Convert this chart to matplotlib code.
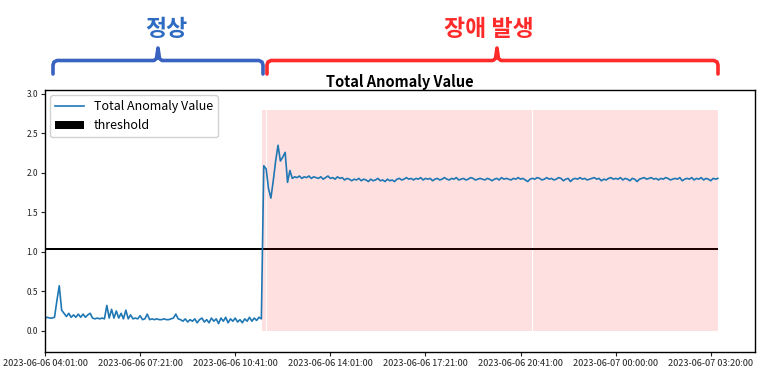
import numpy as np
import matplotlib
matplotlib.use("Agg")
import matplotlib.pyplot as plt
from matplotlib.lines import Line2D

plt.rcParams['font.family'] = ['Noto Sans CJK KR', 'DejaVu Sans']

# ---- data (one value every 5 minutes) ----
step = 5
normal_vals = [
    0.16, 0.17, 0.16, 0.16, 0.17, 0.38, 0.57, 0.26, 0.22, 0.18,
    0.22, 0.17, 0.20, 0.17, 0.21, 0.17, 0.21, 0.17, 0.20, 0.22,
    0.16, 0.15, 0.16, 0.15, 0.16, 0.15, 0.32, 0.16, 0.27, 0.16,
    0.25, 0.16, 0.22, 0.15, 0.26, 0.15, 0.20, 0.15, 0.16, 0.15,
    0.19, 0.14, 0.15, 0.21, 0.14, 0.15, 0.14, 0.15, 0.14, 0.14,
    0.15, 0.14, 0.14, 0.15, 0.16, 0.21, 0.15, 0.14, 0.12, 0.15,
    0.11, 0.14, 0.12, 0.15, 0.10, 0.14, 0.16, 0.11, 0.14, 0.10,
    0.16, 0.12, 0.15, 0.09, 0.16, 0.12, 0.17, 0.10, 0.15, 0.12,
    0.16, 0.11, 0.14, 0.10, 0.15, 0.12, 0.17, 0.12, 0.16, 0.13,
    0.17, 0.15,
]
transition_vals = [
    2.09, 2.05, 1.80, 1.68, 1.90, 2.15, 2.35, 2.15, 2.20, 2.26,
    1.88, 2.03, 1.93,
]
stable_vals = [
    1.95, 1.94, 1.96, 1.93, 1.95, 1.94, 1.96, 1.93, 1.95, 1.94,
    1.93, 1.95, 1.92, 1.94, 1.96, 1.93, 1.94, 1.92, 1.95, 1.93,
    1.94, 1.91, 1.93, 1.92, 1.90, 1.92, 1.91, 1.93, 1.90, 1.92,
    1.91, 1.89, 1.92, 1.90, 1.91, 1.93, 1.90, 1.91, 1.89, 1.92,
    1.90, 1.91, 1.89, 1.92, 1.93, 1.91, 1.92, 1.94, 1.92, 1.93,
    1.91, 1.93, 1.92, 1.94, 1.91, 1.93, 1.92, 1.93, 1.90, 1.92,
    1.93, 1.91, 1.92, 1.94, 1.92, 1.91, 1.93, 1.92, 1.94, 1.91,
    1.92, 1.93, 1.91, 1.92, 1.94, 1.93, 1.91, 1.92, 1.93, 1.92,
    1.91, 1.93, 1.92, 1.90, 1.92, 1.93, 1.91, 1.94, 1.92, 1.93,
    1.92, 1.91, 1.93, 1.92, 1.94, 1.92, 1.93, 1.91, 1.89, 1.92,
    1.93, 1.92, 1.94, 1.93, 1.91, 1.92, 1.94, 1.92, 1.93, 1.91,
    1.92, 1.94, 1.93, 1.90, 1.92, 1.93, 1.89, 1.92, 1.93, 1.92,
    1.94, 1.92, 1.93, 1.91, 1.92, 1.93, 1.94, 1.92, 1.93, 1.90,
    1.92, 1.91, 1.93, 1.94, 1.92, 1.93, 1.92, 1.94, 1.91, 1.93,
    1.92, 1.90, 1.93, 1.92, 1.89, 1.92, 1.93, 1.94, 1.92, 1.93,
    1.94, 1.92, 1.93, 1.91, 1.93, 1.92, 1.94, 1.93, 1.91, 1.92,
    1.93, 1.92, 1.94, 1.90, 1.92, 1.93, 1.92, 1.94, 1.91, 1.93,
    1.92, 1.94, 1.91, 1.93, 1.92, 1.90, 1.93, 1.92, 1.93,
]
values = normal_vals + transition_vals + stable_vals
threshold = 1.04

tick_positions = [0, 200, 400, 600, 800, 1000, 1200, 1400]
tick_labels = [
    "2023-06-06 04:01:00", "2023-06-06 07:21:00", "2023-06-06 10:41:00",
    "2023-06-06 14:01:00", "2023-06-06 17:21:00", "2023-06-06 20:41:00",
    "2023-06-07 00:00:00", "2023-06-07 03:20:00",
]
# anomaly shaded periods (minute index)
span_starts = [457, 466, 1026]
span_ends = [464.5, 1024.5, 1415]
span_top = 2.8

# ---- figure ----
fig = plt.figure(figsize=(7.68, 3.85), dpi=100)
ax = fig.add_axes([45 / 768, 1 - 352 / 385, 710 / 768, 262 / 385])

x = np.arange(len(values)) * step
ax.plot(x, values, color='#1f77b4', lw=1.2, label='Total Anomaly Value')
ax.fill_between([x[0], x[-1]], threshold - 0.014, threshold + 0.014,
                color='black', lw=0, label='threshold')
for s, e in zip(span_starts, span_ends):
    ax.fill_between([s, e], 0, span_top, color='red', alpha=0.12, lw=0)

ax.set_xlim(0, 1493)
ax.set_ylim(-0.27, 3.05)
ax.set_yticks([0.0, 0.5, 1.0, 1.5, 2.0, 2.5, 3.0])
ax.set_xticks(tick_positions)
ax.set_xticklabels(tick_labels)
ax.tick_params(axis='x', labelsize=6.6, length=3, pad=2, colors='#222222')
ax.tick_params(axis='y', labelsize=6, length=3, pad=2, colors='#222222')
for sp in ax.spines.values():
    sp.set_linewidth(1.0)

ax.legend(loc='upper left', fontsize=9, handlelength=2.3,
          borderaxespad=0.4, framealpha=0.9)
ax.set_title('Total Anomaly Value', fontsize=10.5, fontweight='bold', pad=1)

# ---- annotations above the chart (figure pixel coordinates) ----
def fx(px):
    return px / 768

def fy(py):
    return 1 - py / 385

def bracket(x0, x1, mid, color):
    pts = [(x0, 74), (x0, 65), (x0 + 1, 62), (x0 + 4, 60.5), (mid - 4, 60.5),
           (mid - 1.5, 58.5), (mid, 48), (mid + 1.5, 58.5), (mid + 4, 60.5),
           (x1 - 4, 60.5), (x1 - 1, 62), (x1, 65), (x1, 74)]
    xs = [fx(p[0]) for p in pts]
    ys = [fy(p[1]) for p in pts]
    fig.add_artist(Line2D(xs, ys, transform=fig.transFigure, color=color,
                          lw=2.6, solid_joinstyle='round', solid_capstyle='round'))

bracket(53, 263, 158, '#3a62c0')
bracket(267, 718, 497, '#ff2a2a')
fig.text(fx(166), fy(29), '정상', color='#2e6bc2', fontsize=16.5,
         fontweight='bold', ha='center', va='center')
fig.text(fx(489), fy(29), '장애 발생', color='#ff2a2a', fontsize=16.5,
         fontweight='bold', ha='center', va='center')

fig.savefig('out.png', dpi=100)
